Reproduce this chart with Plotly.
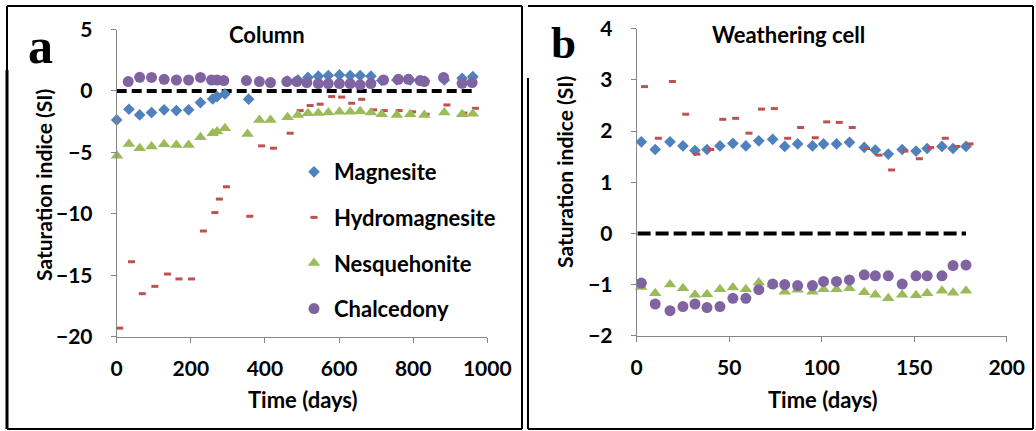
import plotly.graph_objects as go

W, H = 1036, 431

# ---------------- Panel a: Column ----------------
col_mag_days = [0, 33, 62, 94, 128, 161, 194, 226, 259, 271, 292, 356, 461, 489, 516, 544, 571, 601, 630, 657, 686, 715, 756, 792, 830, 884, 932, 961]
col_mag_si = [-2.36, -1.49, -1.95, -1.76, -1.54, -1.6, -1.54, -0.95, -0.65, -0.46, -0.24, -0.67, 0.8, 0.9, 1.1, 1.2, 1.25, 1.3, 1.25, 1.25, 1.2, 0.85, 0.9, 0.9, 0.8, 0.9, 1.03, 1.16]

col_hyd_days = [8, 40, 69, 103, 137, 168, 202, 234, 265, 277, 296, 359, 391, 423, 468, 495, 522, 549, 580, 607, 634, 661, 693, 722, 762, 798, 835, 891, 937, 968]
col_hyd_si = [-19.3, -13.9, -16.5, -15.9, -14.9, -15.3, -15.3, -11.4, -9.9, -8.8, -7.8, -10.2, -4.47, -4.66, -3.44, -1.6, -1.19, -1.08, -0.46, -0.5, -1.0, -0.68, -1.54, -1.6, -1.6, -1.7, -1.9, -1.14, -1.8, -1.41]

col_nes_days = [1, 33, 62, 94, 128, 161, 194, 226, 259, 271, 292, 353, 385, 415, 461, 489, 516, 544, 571, 601, 630, 657, 686, 715, 756, 792, 830, 884, 932, 961]
col_nes_si = [-5.28, -4.31, -4.66, -4.53, -4.34, -4.39, -4.39, -3.77, -3.44, -3.31, -3.04, -3.5, -2.36, -2.36, -2.14, -1.95, -1.82, -1.8, -1.75, -1.7, -1.7, -1.65, -1.75, -1.9, -1.95, -1.9, -1.95, -1.75, -1.9, -1.85]

col_cha_days = [31, 62, 94, 128, 161, 194, 226, 256, 271, 289, 350, 385, 415, 459, 486, 513, 544, 571, 601, 630, 657, 686, 720, 760, 787, 819, 830, 882, 932, 959]
col_cha_si = [0.76, 1.11, 1.1, 0.95, 0.89, 0.89, 1.1, 0.89, 0.89, 0.84, 0.84, 0.76, 0.68, 0.76, 0.76, 0.68, 0.6, 0.6, 0.6, 0.6, 0.5, 0.6, 0.89, 0.95, 0.95, 0.84, 0.76, 1.1, 0.62, 0.68]

col_zero_days = [0, 962]
col_zero_si = [0, 0]

# ---------------- Panel b: Weathering cell ----------------
wc_days = [2.5, 10, 18, 25, 31.5, 38, 45, 52, 59, 66, 73.5, 80, 87, 95, 101, 108, 115, 123, 129, 136, 143.5, 151, 157, 165, 171, 178]
wc_mag_si = [1.79, 1.64, 1.79, 1.71, 1.62, 1.64, 1.71, 1.76, 1.71, 1.81, 1.84, 1.70, 1.75, 1.71, 1.75, 1.75, 1.78, 1.68, 1.63, 1.55, 1.64, 1.61, 1.66, 1.70, 1.66, 1.70]

wc_hyd_days = [4.2, 11.7, 19.3, 26.5, 32.5, 40, 46.5, 53.5, 60.7, 67.5, 74.4, 81.6, 88.6, 96.5, 102.7, 109.5, 116.5, 124.3, 131, 137.8, 145, 152.8, 158.9, 166.8, 173, 180.2]
wc_hyd_si = [2.87, 1.86, 2.97, 2.33, 1.55, 1.64, 2.23, 2.25, 1.96, 2.43, 2.44, 1.86, 2.07, 1.87, 2.18, 2.17, 2.07, 1.66, 1.53, 1.24, 1.61, 1.46, 1.68, 1.86, 1.70, 1.75]

wc_nes_si = [-1.05, -1.17, -1.0, -1.07, -1.2, -1.19, -1.09, -1.06, -1.09, -0.96, -1.0, -1.14, -1.1, -1.14, -1.09, -1.09, -1.07, -1.15, -1.2, -1.27, -1.2, -1.21, -1.17, -1.12, -1.16, -1.12]
wc_cha_si = [-0.97, -1.38, -1.51, -1.43, -1.38, -1.45, -1.43, -1.27, -1.27, -1.10, -0.99, -1.0, -1.02, -1.02, -0.94, -0.94, -0.91, -0.81, -0.83, -0.83, -0.99, -0.83, -0.83, -0.83, -0.63, -0.62]

wc_zero_days = [0.5, 178]
wc_zero_si = [0, 0]

series_names = ["Magnesite", "Hydromagnesite", "Nesquehonite", "Chalcedony"]
xticks_a = [0, 200, 400, 600, 800, 1000]
yticks_a = [5, 0, -5, -10, -15, -20]
xticks_b = [0, 50, 100, 150, 200]
yticks_b = [4, 3, 2, 1, 0, -1, -2]

# ---------------- styles ----------------
BLUE, RED, GREEN, PURPLE = "#4F81BD", "#C0504D", "#9BBB59", "#8064A2"
AXC = "#868686"
FONT = "Lato"


def px(x):
    return x / W


def py(y):
    return 1 - y / H


def mk(name, color):
    if name == "Magnesite":
        return dict(symbol="diamond", size=9, color=color, line=dict(width=0))
    if name == "Hydromagnesite":
        return dict(symbol="line-ew", size=5, color=color, line=dict(color=color, width=3))
    if name == "Nesquehonite":
        return dict(symbol="triangle-up", size=11, color=color, line=dict(width=0))
    return dict(symbol="circle", size=11, color=color, line=dict(width=0))


fig = go.Figure()

colors = [BLUE, RED, GREEN, PURPLE]
a_data = [(col_mag_days, col_mag_si), (col_hyd_days, col_hyd_si), (col_nes_days, col_nes_si), (col_cha_days, col_cha_si)]
b_data = [(wc_days, wc_mag_si), (wc_hyd_days, wc_hyd_si), (wc_days, wc_nes_si), (wc_days, wc_cha_si)]

fig.add_trace(go.Scatter(x=col_zero_days, y=col_zero_si, mode="lines", xaxis="x", yaxis="y",
                         line=dict(color="black", width=4, dash="10px,5px"), showlegend=False, hoverinfo="skip"))
fig.add_trace(go.Scatter(x=wc_zero_days, y=wc_zero_si, mode="lines", xaxis="x2", yaxis="y2",
                         line=dict(color="black", width=4, dash="13px,5px"), showlegend=False, hoverinfo="skip"))

for i, name in enumerate(series_names):
    fig.add_trace(go.Scatter(x=a_data[i][0], y=a_data[i][1], mode="markers", name=name,
                             marker=mk(name, colors[i]), xaxis="x", yaxis="y", cliponaxis=False,
                             legendgroup=name, showlegend=True))
for i, name in enumerate(series_names):
    fig.add_trace(go.Scatter(x=b_data[i][0], y=b_data[i][1], mode="markers", name=name,
                             marker=mk(name, colors[i]), xaxis="x2", yaxis="y2", cliponaxis=False,
                             legendgroup=name, showlegend=False))

tickfont = dict(family=FONT, size=21, color="black", weight="bold")
axis_common = dict(showline=True, linecolor=AXC, linewidth=1, ticks="outside", ticklen=5, tickcolor=AXC,
                   showgrid=False, zeroline=False, tickfont=tickfont, fixedrange=True, automargin=False)

fig.update_layout(
    width=W, height=H, autosize=False,
    margin=dict(l=0, r=0, t=0, b=0, pad=0, autoexpand=False),
    paper_bgcolor="white", plot_bgcolor="rgba(0,0,0,0)",
    xaxis=dict(domain=[px(116.7), px(487.3)], range=[0, 1000], tickvals=xticks_a, anchor="y",
               ticklabelstandoff=8, **axis_common),
    yaxis=dict(domain=[py(336.7), py(29.5)], range=[-20, 5], tickvals=yticks_a, anchor="x",
               ticklabelstandoff=14, **axis_common),
    xaxis2=dict(domain=[px(636.7), px(1006.7)], range=[0, 200], tickvals=xticks_b, anchor="y2",
                ticklabelstandoff=8, **axis_common),
    yaxis2=dict(domain=[py(335.7), py(28.8)], range=[-2, 4], tickvals=yticks_b, anchor="x2",
                ticklabelstandoff=14, **axis_common),
    legend=dict(x=px(294), y=py(151), xanchor="left", yanchor="top", bgcolor="rgba(0,0,0,0)",
                font=dict(family=FONT, size=22, color="black", weight="bold"),
                tracegroupgap=14),
    showlegend=True,
)

# frames
LINE = dict(color="black", width=2)
frame_lines = [
    (7, 6, 522, 6), (522, 6, 522, 429), (7, 429, 522, 429), (7, 6, 7, 429),
    (528, 6, 1033, 6), (1033, 6, 1033, 429), (528, 429, 1033, 429), (528, 78, 528, 429),
]
for x0, y0, x1, y1 in frame_lines:
    fig.add_shape(type="line", xref="paper", yref="paper", x0=px(x0), y0=py(y0), x1=px(x1), y1=py(y1),
                  line=LINE, layer="above")
fig.add_shape(type="line", xref="paper", yref="paper", x0=px(7), y0=py(70), x1=px(7), y1=py(429),
              line=dict(color="black", width=3), layer="above")

tfont = dict(family=FONT, size=22, color="black", weight="bold")
yfont = dict(family=FONT, size=21, color="black", weight="bold")
texts = [
    ("Column", 266.5, 34.5, 0, tfont),
    ("Weathering cell", 788, 34.5, 0, tfont),
    ("Saturation indice (SI)", 43, 185, -90, yfont),
    ("Saturation indice (SI)", 565, 172, -90, yfont),
    ("Time (days)", 302.5, 399, 0, tfont),
    ("Time (days)", 823, 399, 0, tfont),
    ("a", 40, 46, 0, dict(family="Liberation Serif", size=50, color="black", weight="bold")),
    ("b", 563, 43, 0, dict(family="Liberation Serif", size=45, color="black", weight="bold")),
]
for t, x, y, ang, f in texts:
    fig.add_annotation(text=t, x=px(x), y=py(y), xref="paper", yref="paper", showarrow=False,
                       xanchor="center", yanchor="middle", textangle=ang, font=f)

fig.write_html("out.html", post_script="document.body.style.margin='0px';document.body.style.overflow='hidden';")
